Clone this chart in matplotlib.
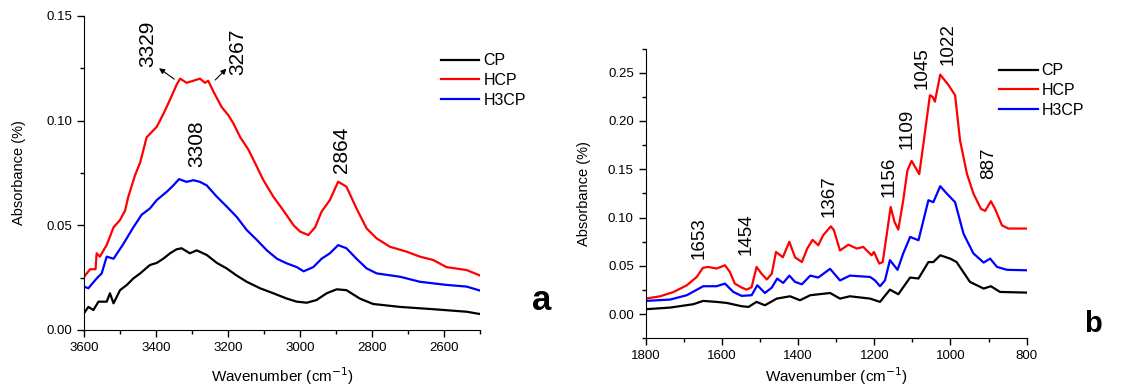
import matplotlib
matplotlib.use('Agg')
import matplotlib.pyplot as plt
from matplotlib.ticker import MultipleLocator

plt.rcParams['font.family'] = ['Liberation Sans', 'DejaVu Sans']

# ---- panel a : 3600-2500 cm-1 ----
wn_a_hcp = [3600, 3583, 3568, 3565, 3556, 3537, 3518, 3500, 3486, 3477, 3458, 3444, 3426, 3398,
            3380, 3361, 3343, 3333, 3315, 3296, 3278, 3264, 3255, 3241, 3218, 3199, 3185,
            3166, 3143, 3120, 3102, 3074, 3046, 3018, 3000, 2977, 2958, 2940, 2917, 2894,
            2871, 2843, 2815, 2787, 2750, 2704, 2667, 2630, 2593, 2537, 2500]
hcp_a = [0.0254, 0.029, 0.029, 0.0366, 0.035, 0.0406, 0.049, 0.0525, 0.057, 0.0636, 0.074, 0.080,
         0.092, 0.097, 0.103, 0.110, 0.117, 0.120, 0.118, 0.119, 0.120, 0.118, 0.119, 0.114,
         0.1065, 0.1025, 0.0986, 0.092, 0.086, 0.078, 0.0716, 0.0636, 0.057, 0.050, 0.047,
         0.0453, 0.049, 0.0565, 0.062, 0.0708, 0.0684, 0.058, 0.0485, 0.0437, 0.0397, 0.0374,
         0.035, 0.0334, 0.030, 0.0286, 0.026]

wn_a_h3cp = [3600, 3588, 3565, 3551, 3537, 3518, 3491, 3463, 3440, 3417, 3398, 3370, 3352, 3336,
             3315, 3296, 3278, 3259, 3231, 3204, 3176, 3148, 3120, 3092, 3064, 3037, 3009,
             2990, 2963, 2940, 2917, 2894, 2871, 2843, 2815, 2787, 2722, 2667, 2593, 2537, 2500]
h3cp_a = [0.0207, 0.0199, 0.0246, 0.027, 0.035, 0.034, 0.041, 0.049, 0.055, 0.058, 0.062, 0.066,
          0.069, 0.072, 0.0707, 0.0715, 0.0707, 0.069, 0.0636, 0.059, 0.054, 0.0477, 0.043,
          0.038, 0.034, 0.0318, 0.030, 0.028, 0.030, 0.034, 0.0366, 0.0405, 0.039, 0.034,
          0.0294, 0.027, 0.0254, 0.023, 0.0215, 0.0207, 0.0188]

wn_a_cp = [3600, 3588, 3574, 3560, 3537, 3528, 3518, 3500, 3481, 3463, 3444, 3417, 3398, 3380,
           3361, 3343, 3329, 3306, 3287, 3259, 3231, 3204, 3176, 3148, 3111, 3074, 3037,
           3009, 2981, 2954, 2926, 2898, 2871, 2834, 2797, 2722, 2630, 2537, 2500]
cp_a = [0.008, 0.011, 0.0095, 0.0135, 0.0135, 0.0175, 0.0127, 0.019, 0.0215, 0.0246, 0.027,
        0.031, 0.032, 0.034, 0.0366, 0.0385, 0.039, 0.0366, 0.038, 0.0358, 0.032, 0.0294,
        0.026, 0.023, 0.0199, 0.0175, 0.015, 0.0135, 0.013, 0.0143, 0.0175, 0.0194, 0.019,
        0.015, 0.0124, 0.011, 0.0099, 0.0087, 0.0076]

# ---- panel b : 1800-800 cm-1 ----
wn_b_hcp = [1800, 1762, 1727, 1692, 1666, 1650, 1636, 1614, 1592, 1579, 1566, 1548, 1535, 1522,
            1509, 1496, 1482, 1469, 1458, 1440, 1423, 1408, 1390, 1376, 1362, 1347, 1334,
            1314, 1306, 1290, 1268, 1246, 1229, 1207, 1201, 1187, 1178, 1167, 1157, 1147,
            1137, 1124, 1113, 1102, 1093, 1082, 1071, 1054, 1047, 1041, 1027, 1019, 1005,
            988, 975, 957, 940, 920, 909, 894, 883, 865, 848, 800]
hcp_b = [0.0162, 0.0186, 0.023, 0.030, 0.0386, 0.048, 0.049, 0.0473, 0.0507, 0.0438, 0.0317,
         0.0276, 0.0255, 0.028, 0.049, 0.042, 0.036, 0.042, 0.0645, 0.059, 0.075, 0.059, 0.054,
         0.068, 0.077, 0.0714, 0.0818, 0.091, 0.087, 0.066, 0.072, 0.068, 0.0697, 0.061,
         0.0645, 0.0524, 0.054, 0.0835, 0.111, 0.0956, 0.0876, 0.118, 0.149, 0.1587, 0.1525,
         0.145, 0.1766, 0.2267, 0.225, 0.22, 0.248, 0.244, 0.237, 0.2267, 0.180, 0.1456, 0.125,
         0.109, 0.107, 0.117, 0.109, 0.092, 0.0887, 0.0887]

wn_b_h3cp = [1800, 1736, 1692, 1649, 1614, 1592, 1570, 1548, 1522, 1507, 1487, 1469, 1455, 1439,
             1423, 1408, 1390, 1368, 1347, 1316, 1290, 1264, 1211, 1198, 1185, 1172, 1159,
             1139, 1124, 1106, 1084, 1058, 1045, 1027, 1010, 988, 966, 940, 913, 896, 878,
             852, 800]
h3cp_b = [0.0138, 0.0152, 0.0197, 0.029, 0.029, 0.0317, 0.0231, 0.019, 0.0197, 0.030, 0.022,
          0.0276, 0.0369, 0.0324, 0.040, 0.0335, 0.031, 0.040, 0.038, 0.047, 0.035, 0.040,
          0.0386, 0.035, 0.029, 0.035, 0.056, 0.046, 0.063, 0.080, 0.0766, 0.118, 0.116,
          0.1325, 0.125, 0.116, 0.0835, 0.063, 0.0535, 0.0576, 0.049, 0.046, 0.0455]

wn_b_cp = [1800, 1736, 1675, 1649, 1614, 1587, 1548, 1530, 1509, 1487, 1456, 1421, 1395, 1368,
           1316, 1290, 1264, 1211, 1185, 1159, 1137, 1106, 1084, 1058, 1045, 1027, 1001, 984,
           949, 913, 894, 870, 800]
cp_b = [0.0052, 0.0069, 0.0104, 0.0138, 0.0128, 0.0117, 0.0083, 0.0076, 0.0128, 0.0093, 0.0162,
        0.0186, 0.0145, 0.0197, 0.022, 0.0162, 0.0186, 0.0162, 0.0128, 0.0255, 0.0207, 0.038,
        0.037, 0.054, 0.054, 0.061, 0.0576, 0.054, 0.0335, 0.0266, 0.029, 0.0231, 0.0224]

# peak labels: (text, wavenumber, absorbance of label foot)
peaks_a = [('3329', 3422, 0.1255), ('3267', 3172, 0.1217), ('3308', 3287, 0.078), ('2864', 2884, 0.0748)]
peaks_b = [('1653', 1660, 0.0576), ('1454', 1537, 0.061), ('1367', 1319, 0.1007),
           ('1156', 1161, 0.1214), ('1109', 1113, 0.1715), ('1045', 1074, 0.2336),
           ('1022', 1005, 0.2577), ('887', 899, 0.1404)]
arrows_a = [((3343, 0.119), (3398, 0.1257)), ((3241, 0.1184), (3199, 0.1257))]

names = ['CP', 'HCP', 'H3CP']
colors = ['black', 'red', 'blue']

fig = plt.figure(figsize=(11.28, 3.85), dpi=100)
ax1 = fig.add_axes([0.0745, 0.143, 0.351, 0.816])
ax2 = fig.add_axes([0.5724, 0.121, 0.3378, 0.753])

for ax, data in [(ax1, [(wn_a_cp, cp_a), (wn_a_hcp, hcp_a), (wn_a_h3cp, h3cp_a)]),
                 (ax2, [(wn_b_cp, cp_b), (wn_b_hcp, hcp_b), (wn_b_h3cp, h3cp_b)])]:
    for (x, y), name, c in zip(data, names, colors):
        ax.plot(x, y, color=c, lw=1.6, label=name)
    for s in ['top', 'right']:
        ax.spines[s].set_visible(False)
    ax.tick_params(direction='out', length=5, width=1, labelsize=9.5)
    ax.tick_params(which='minor', direction='out', length=3, width=1)
    ax.xaxis.set_major_locator(MultipleLocator(200))
    ax.xaxis.set_minor_locator(MultipleLocator(100))

ax1.set_xlabel('Wavenumber (cm$^{-1}$)', fontsize=11, labelpad=8)
ax1.set_ylabel('Absorbance (%)', fontsize=10.5, labelpad=15)
ax2.set_xlabel('Wavenumber (cm$^{-1}$)', fontsize=11, labelpad=2)
ax2.set_ylabel('Absorbance (%)', fontsize=10.5, labelpad=12)

ax1.set_xlim(3600, 2500)
ax1.set_ylim(0, 0.15)
ax1.yaxis.set_major_locator(MultipleLocator(0.05))
ax1.yaxis.set_minor_locator(MultipleLocator(0.025))
ax1.yaxis.set_major_formatter('{x:.2f}')

ax2.set_xlim(1800, 800)
ax2.set_ylim(-0.025, 0.275)
ax2.yaxis.set_major_locator(MultipleLocator(0.05))
ax2.yaxis.set_minor_locator(MultipleLocator(0.025))
ax2.yaxis.set_major_formatter('{x:.2f}')

for txt, x, y in peaks_a:
    ax1.text(x, y, txt, rotation=90, ha='center', va='bottom', fontsize=15)
for txt, x, y in peaks_b:
    ax2.text(x, y, txt, rotation=90, ha='center', va='bottom', fontsize=13.5)
for start, end in arrows_a:
    ax1.annotate('', xy=end, xytext=start,
                 arrowprops=dict(arrowstyle='-|>', color='black', lw=0.8, mutation_scale=8))

ax1.text(2356, 0.0095, 'a', fontsize=25, fontweight='bold', ha='left', va='baseline', clip_on=False)
ax2.text(650, -0.0186, 'b', fontsize=21, fontweight='bold', ha='left', va='baseline', clip_on=False)

kw = dict(frameon=False, fontsize=11.5, handlelength=2.4, handletextpad=0.25,
          labelspacing=0.3, borderpad=0, borderaxespad=0, loc='upper left')
ax1.legend(bbox_to_anchor=(0.391, 0.862), bbox_transform=fig.transFigure, **kw)
ax2.legend(bbox_to_anchor=(0.886, 0.836), bbox_transform=fig.transFigure, **kw)

fig.savefig('out.png', dpi=100)
